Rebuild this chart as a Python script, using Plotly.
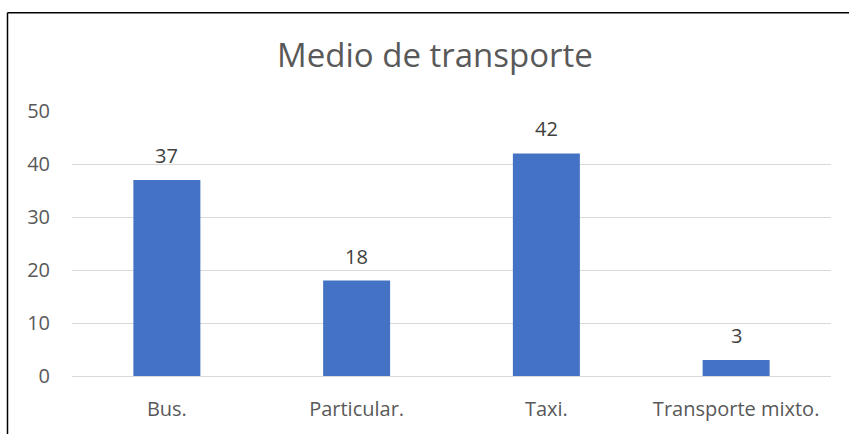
import plotly.graph_objects as go

categories = ["Bus.", "Particular.", "Taxi.", "Transporte mixto."]
values = [37, 18, 42, 3]
y_ticks = [0, 10, 20, 30, 40, 50]

W, H = 849, 434
L, R, T, B = 72, 18, 111, 56
pw, ph = W - L - R, H - T - B
FONT = "Open Sans, Carlito, Calibri, sans-serif"

fig = go.Figure(
    go.Bar(
        x=categories,
        y=values,
        marker=dict(color="#4472C4", line=dict(width=0)),
        hoverinfo="x+y",
    )
)

# value labels above each bar
for c, v in zip(categories, values):
    fig.add_annotation(
        x=c, y=v, text=str(v), showarrow=False,
        yanchor="bottom", yshift=9,
        font=dict(family=FONT, size=20, color="#404040"),
    )

# chart frame: top and left edges
fx = (7.5 - L) / pw
fy = 1 + (T - 12) / ph
fig.add_shape(type="line", xref="paper", yref="paper", x0=fx, x1=(W - L) / pw, y0=fy, y1=fy,
              line=dict(color="black", width=1.5))
fig.add_shape(type="line", xref="paper", yref="paper", x0=fx, x1=fx, y0=fy, y1=-(B + 5) / ph,
              line=dict(color="black", width=1.5))

fig.update_layout(
    width=W, height=H,
    margin=dict(l=L, r=R, t=T, b=B),
    paper_bgcolor="white", plot_bgcolor="white",
    bargap=0.647,
    showlegend=False,
    title=dict(
        text="Medio de transporte",
        x=435 / W, xanchor="center",
        y=1 - 55 / H, yanchor="middle",
        font=dict(family=FONT, size=33, color="#595959"),
    ),
    font=dict(family=FONT, size=20, color="#595959"),
)

fig.update_yaxes(
    range=[0, 50], tickvals=y_ticks, showgrid=True, gridcolor="#D9D9D9", gridwidth=1,
    zeroline=False, showline=False, ticks="", ticklabelstandoff=21,
    tickfont=dict(family=FONT, size=20, color="#595959"),
)
fig.update_xaxes(
    showline=True, linecolor="#D9D9D9", linewidth=1, ticks="", ticklabelstandoff=15,
    tickfont=dict(family=FONT, size=20, color="#595959"),
)

fig.write_html("out.html")
